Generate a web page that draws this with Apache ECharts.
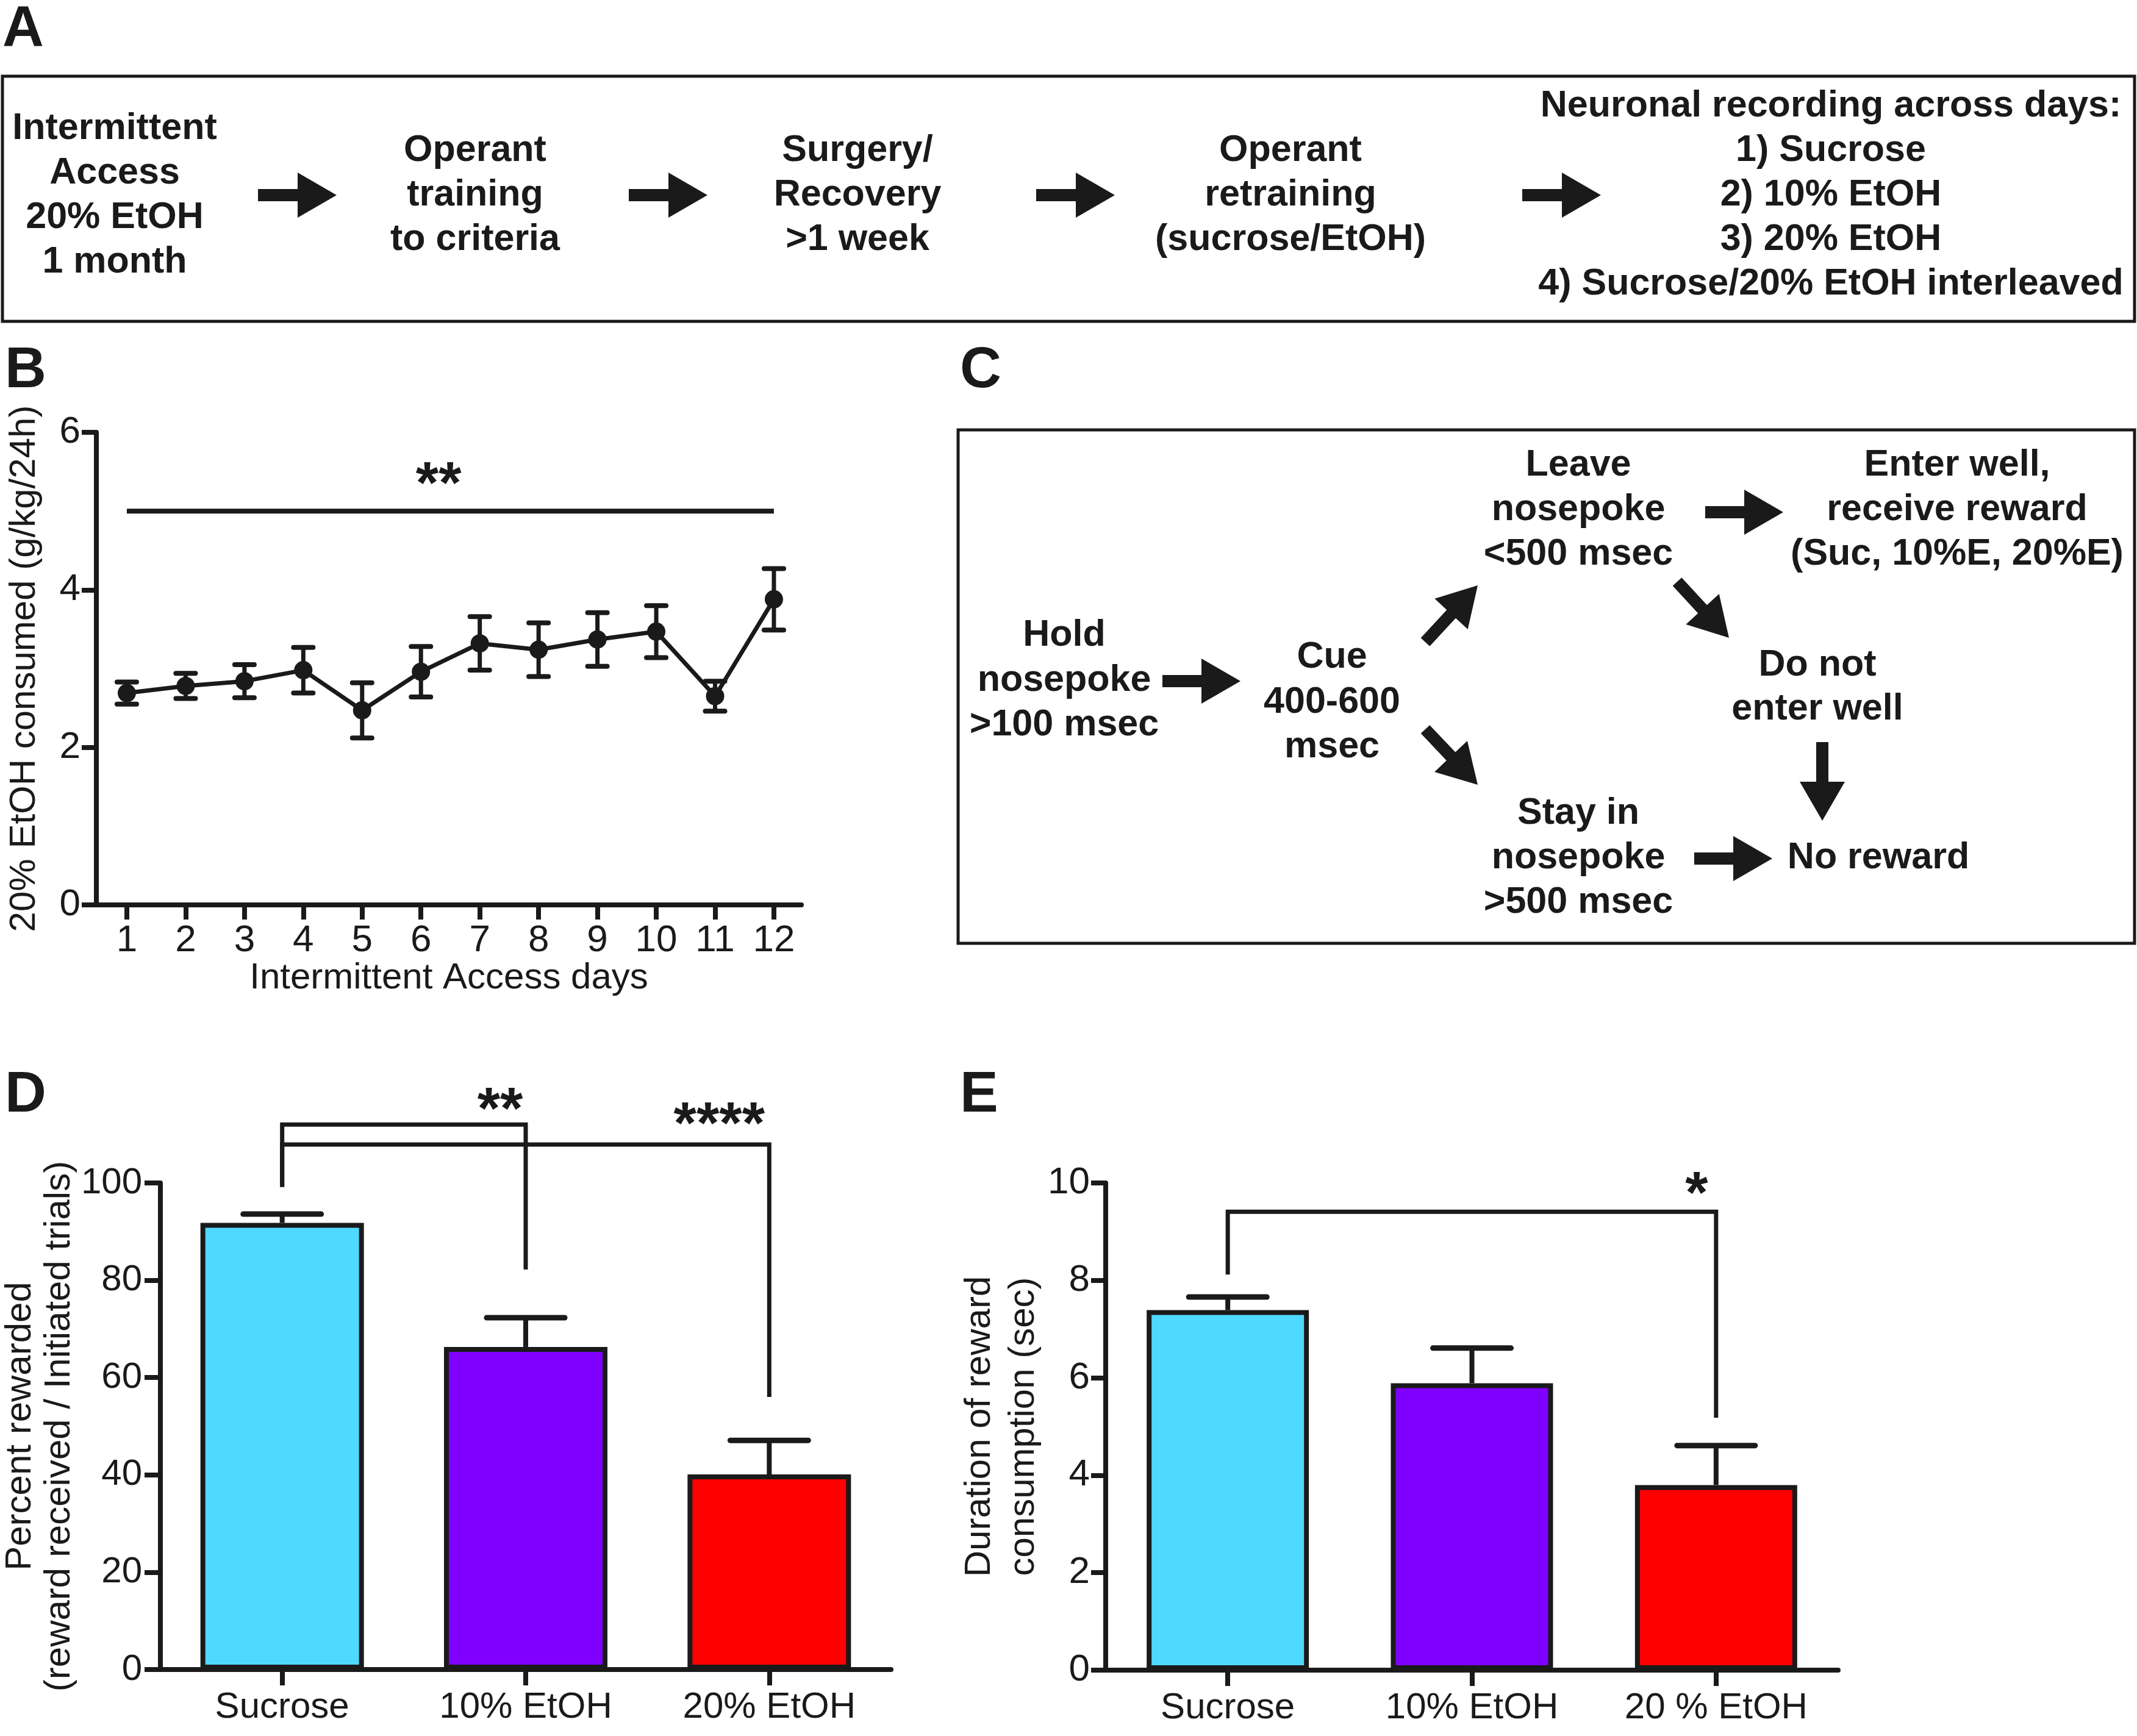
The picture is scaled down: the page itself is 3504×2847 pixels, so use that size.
<!DOCTYPE html>
<html><head><meta charset="utf-8">
<script src="https://cdn.jsdelivr.net/npm/echarts@6/dist/echarts.min.js"></script>
<style>html,body{margin:0;padding:0;background:#fff}#c{width:3504px;height:2847px}</style>
</head><body><div id="c"></div>
<script>
// ---------- DATA ----------
const dayValues = [1, 2, 3, 4, 5, 6, 7, 8, 9, 10, 11, 12];
const dayLabels = ['1', '2', '3', '4', '5', '6', '7', '8', '9', '10', '11', '12'];
const etohMean = [2.69, 2.78, 2.84, 2.98, 2.47, 2.96, 3.32, 3.24, 3.37, 3.47, 2.65, 3.88];
const etohSem  = [0.14, 0.16, 0.21, 0.29, 0.35, 0.32, 0.34, 0.34, 0.34, 0.33, 0.19, 0.39];
const etohSigLine = [1, 12, 5.0];          // from day, to day, level
const etohSigText = [[6.3, 5.45, '**']];   // day, level, text

const rewardCategories = ['Sucrose', '10% EtOH', '20% EtOH'];
const percentMean = [91.8, 66.3, 40.1];
const percentSem  = [1.8, 6.0, 7.0];
// bracket: [fromCat, fromStartY, topY, toCat, toEndY]
const percentBrackets = [[0, 99.2, 112, 1, 82.2], [0, 99.2, 107.9, 2, 56]];
// [category, level, text]; shifted a little left of the category centre
const percentSigText = [[1, 116.8, '**'], [2, 113.8, '****']];

const durationCategories = ['Sucrose', '10% EtOH', '20 % EtOH'];
const durationMean = [7.39, 5.89, 3.80];
const durationSem  = [0.27, 0.72, 0.81];
const durationBrackets = [[0, 8.12, 9.41, 2, 5.18]];
const durationSigText = [[2, 9.95, '*']];

const barColors = ['#50D9FF', '#8000FF', '#FF0000'];

// ---------- STYLE ----------
const INK = '#1a1a1a';
const FONT = '"Liberation Sans", Arial, Helvetica, sans-serif';

function errRender(both, capHalf, lw) {
  return function (params, api) {
    const x = api.value(0), m = api.value(1), s = api.value(2);
    const top = api.coord([x, m + s]);
    const mid = api.coord([x, m]);
    const bot = api.coord([x, m - s]);
    const st = { stroke: INK, lineWidth: lw, lineCap: 'butt' };
    const cst = { stroke: INK, lineWidth: lw + 1, lineCap: 'round' };
    const ch = [];
    if (both) {
      ch.push({ type: 'line', shape: { x1: top[0], y1: top[1], x2: bot[0], y2: bot[1] }, style: st });
      ch.push({ type: 'line', shape: { x1: bot[0] - capHalf, y1: bot[1], x2: bot[0] + capHalf, y2: bot[1] }, style: cst });
    } else {
      ch.push({ type: 'line', shape: { x1: mid[0], y1: mid[1], x2: top[0], y2: top[1] }, style: st });
    }
    ch.push({ type: 'line', shape: { x1: top[0] - capHalf, y1: top[1], x2: top[0] + capHalf, y2: top[1] }, style: cst });
    return { type: 'group', children: ch };
  };
}
function bracketRender(params, api) {
  const a = api.coord([api.value(0), api.value(1)]);
  const b = api.coord([api.value(0), api.value(2)]);
  const c = api.coord([api.value(3), api.value(2)]);
  const d = api.coord([api.value(3), api.value(4)]);
  return { type: 'polyline', shape: { points: [a, b, c, d] },
    style: { stroke: INK, lineWidth: 7, fill: null, lineJoin: 'miter' } };
}
function sigRender(list, size, dx) {
  return function (params, api) {
    const p = api.coord([api.value(0), api.value(1)]);
    return { type: 'text', x: p[0] + dx[params.dataIndex], y: p[1] + size * 0.18,
      style: { text: list[params.dataIndex][2], fill: INK, fontSize: size, fontWeight: 'bold',
        fontFamily: FONT, align: 'center', verticalAlign: 'middle' } };
  };
}

function axisCommon(extra) {
  return Object.assign({
    axisLine: { show: true, onZero: false, lineStyle: { color: INK, width: 8 } },
    axisTick: { show: true, length: 24, lineStyle: { color: INK, width: 8 } },
    axisLabel: { color: INK, fontSize: 62, fontFamily: FONT },
    splitLine: { show: false }
  }, extra);
}

// ---------- GRAPHIC (diagrams A and C) ----------
const graphics = [];
function txt(x, y, s, size, weight, align) {
  graphics.push({ type: 'text', x: x, y: y, style: { text: s, fill: INK, fontSize: size,
    fontWeight: weight || 'bold', fontFamily: FONT, align: align || 'center', verticalAlign: 'middle',
    textAlign: align || 'center', textVerticalAlign: 'middle' } });
}
function lines(cx, ys, arr) { arr.forEach((s, i) => txt(cx, ys[i], s, 61, 'bold')); }
function arrow(x0, y0, x1, y1) {
  const dx = x1 - x0, dy = y1 - y0, L = Math.hypot(dx, dy);
  const ux = dx / L, uy = dy / L, nx = -uy, ny = ux;
  const sh = 10, hl = 64, hh = 37;
  const bx = x1 - ux * hl, by = y1 - uy * hl;
  graphics.push({ type: 'polygon', shape: { points: [
    [x0 + nx * sh, y0 + ny * sh], [bx + nx * sh, by + ny * sh], [bx + nx * hh, by + ny * hh],
    [x1, y1], [bx - nx * hh, by - ny * hh], [bx - nx * sh, by - ny * sh], [x0 - nx * sh, y0 - ny * sh]
  ] }, style: { fill: INK } });
}
function box(x, y, w, h) {
  graphics.push({ type: 'rect', shape: { x: x, y: y, width: w, height: h },
    style: { fill: 'none', stroke: INK, lineWidth: 5 } });
}
// panel letters
txt(4, 50, 'A', 94, 'bold', 'left');
txt(8, 609, 'B', 94, 'bold', 'left');
txt(1574, 609, 'C', 94, 'bold', 'left');
txt(8, 1797, 'D', 94, 'bold', 'left');
txt(1574, 1797, 'E', 94, 'bold', 'left');
// Panel A
box(4, 125, 3496, 402);
lines(188, [211, 284, 357, 430], ['Intermittent', 'Access', '20% EtOH', '1 month']);
lines(779, [247, 320, 393], ['Operant', 'training', 'to criteria']);
lines(1406, [247, 320, 393], ['Surgery/', 'Recovery', '>1 week']);
lines(2116, [247, 320, 393], ['Operant', 'retraining', '(sucrose/EtOH)']);
lines(3002, [174, 247, 320, 393, 466], ['Neuronal recording across days:', '1) Sucrose', '2) 10% EtOH', '3) 20% EtOH', '4) Sucrose/20% EtOH interleaved']);
arrow(423, 320, 552, 320);
arrow(1031, 320, 1160, 320);
arrow(1699, 320, 1828, 320);
arrow(2496, 320, 2625, 320);
// Panel C
box(1571, 705, 1929, 842);
lines(1745, [1042, 1116, 1189], ['Hold', 'nosepoke', '>100 msec']);
lines(2184, [1078, 1152, 1225], ['Cue', '400-600', 'msec']);
lines(2588, [763, 836, 909], ['Leave', 'nosepoke', '<500 msec']);
lines(3209, [763, 836, 909], ['Enter well,', 'receive reward', '(Suc, 10%E, 20%E)']);
lines(2980, [1091, 1163], ['Do not', 'enter well']);
lines(2588, [1334, 1407, 1480], ['Stay in', 'nosepoke', '>500 msec']);
lines(3080, [1407], ['No reward']);
arrow(1906, 1117, 2034, 1117);
arrow(2337, 1053, 2423, 960);
arrow(2337, 1196, 2423, 1287);
arrow(2750, 954, 2835, 1046);
arrow(2796, 840, 2924, 840);
arrow(2988, 1217, 2988, 1346);
arrow(2778, 1408, 2906, 1408);

// ---------- CHART ----------
const chart = echarts.init(document.getElementById('c'), null, { renderer: 'canvas' });
const option = {
  backgroundColor: '#ffffff',
  animation: false,
  textStyle: { fontFamily: FONT },
  graphic: graphics,
  grid: [
    { left: 158, top: 709, width: 1156, height: 775 },
    { left: 258, top: 1940, width: 1203, height: 798 },
    { left: 1813, top: 1940, width: 1201, height: 799 }
  ],
  xAxis: [
    axisCommon({ gridIndex: 0, type: 'value', min: 0.482, max: 12.467,
      axisTick: { show: true, length: 24, customValues: dayValues, lineStyle: { color: INK, width: 8 } },
      axisLabel: { color: INK, fontSize: 62, fontFamily: FONT, margin: 28, customValues: dayValues,
        formatter: v => dayLabels[dayValues.indexOf(v)] },
      name: 'Intermittent Access days', nameLocation: 'middle', nameGap: 90,
      nameTextStyle: { color: INK, fontSize: 60, fontFamily: FONT } }),
    axisCommon({ gridIndex: 1, type: 'category', data: rewardCategories,
      axisTick: { show: true, length: 26, alignWithLabel: true, lineStyle: { color: INK, width: 8 } },
      axisLabel: { color: INK, fontSize: 60, fontFamily: FONT, margin: 32, interval: 0 } }),
    axisCommon({ gridIndex: 2, type: 'category', data: durationCategories,
      axisTick: { show: true, length: 26, alignWithLabel: true, lineStyle: { color: INK, width: 8 } },
      axisLabel: { color: INK, fontSize: 60, fontFamily: FONT, margin: 32, interval: 0 } })
  ],
  yAxis: [
    axisCommon({ gridIndex: 0, type: 'value', min: 0, max: 6, interval: 2,
      axisLabel: { color: INK, fontSize: 62, fontFamily: FONT, margin: 26 },
      name: '20% EtOH consumed (g/kg/24h)', nameLocation: 'middle', nameRotate: 90, nameGap: 88,
      nameTextStyle: { color: INK, fontSize: 60, fontFamily: FONT } }),
    axisCommon({ gridIndex: 1, type: 'value', min: 0, max: 100, interval: 20,
      axisTick: { show: true, length: 26, lineStyle: { color: INK, width: 8 } },
      axisLabel: { color: INK, fontSize: 60, fontFamily: FONT, margin: 30 },
      name: 'Percent rewarded\n(reward received / Initiated trials)', nameLocation: 'middle', nameRotate: 90, nameGap: 113,
      nameTextStyle: { color: INK, fontSize: 60, fontFamily: FONT, lineHeight: 64 } }),
    axisCommon({ gridIndex: 2, type: 'value', min: 0, max: 10, interval: 2,
      axisLabel: { color: INK, fontSize: 62, fontFamily: FONT, margin: 26 },
      name: 'Duration of reward\nconsumption (sec)', nameLocation: 'middle', nameRotate: 90, nameGap: 96,
      nameTextStyle: { color: INK, fontSize: 60, fontFamily: FONT, lineHeight: 72 } })
  ],
  series: [
    // Panel B
    { type: 'custom', xAxisIndex: 0, yAxisIndex: 0, z: 3,
      data: dayValues.map((d, i) => [d, etohMean[i], etohSem[i]]),
      renderItem: errRender(true, 16, 7) },
    { type: 'line', xAxisIndex: 0, yAxisIndex: 0, z: 4,
      data: dayValues.map((d, i) => [d, etohMean[i]]),
      symbol: 'circle', symbolSize: 30, itemStyle: { color: INK }, lineStyle: { color: INK, width: 7 } },
    { type: 'custom', xAxisIndex: 0, yAxisIndex: 0, z: 3,
      data: [[etohSigLine[0], etohSigLine[2], etohSigLine[2], etohSigLine[1], etohSigLine[2]]],
      renderItem: function (params, api) {
        const a = api.coord([api.value(0), api.value(1)]);
        const b = api.coord([api.value(3), api.value(4)]);
        return { type: 'line', shape: { x1: a[0], y1: a[1], x2: b[0], y2: b[1] },
          style: { stroke: INK, lineWidth: 8 } };
      } },
    { type: 'custom', xAxisIndex: 0, yAxisIndex: 0, z: 3,
      data: etohSigText.map(r => [r[0], r[1]]), renderItem: sigRender(etohSigText, 96, [0]) },
    // Panel D
    { type: 'bar', xAxisIndex: 1, yAxisIndex: 1, barWidth: 268, z: 2,
      data: percentMean.map((v, i) => ({ value: v, itemStyle: { color: barColors[i], borderColor: INK, borderWidth: 8 } })) },
    { type: 'custom', xAxisIndex: 1, yAxisIndex: 1, z: 3,
      data: percentMean.map((v, i) => [i, v, percentSem[i]]), renderItem: errRender(false, 64, 8) },
    { type: 'custom', xAxisIndex: 1, yAxisIndex: 1, z: 3,
      data: percentBrackets, renderItem: bracketRender },
    { type: 'custom', xAxisIndex: 1, yAxisIndex: 1, z: 3,
      data: percentSigText.map(r => [r[0], r[1]]), renderItem: sigRender(percentSigText, 96, [-42, -82]) },
    // Panel E
    { type: 'bar', xAxisIndex: 2, yAxisIndex: 2, barWidth: 266, z: 2,
      data: durationMean.map((v, i) => ({ value: v, itemStyle: { color: barColors[i], borderColor: INK, borderWidth: 8 } })) },
    { type: 'custom', xAxisIndex: 2, yAxisIndex: 2, z: 3,
      data: durationMean.map((v, i) => [i, v, durationSem[i]]), renderItem: errRender(false, 64, 8) },
    { type: 'custom', xAxisIndex: 2, yAxisIndex: 2, z: 3,
      data: durationBrackets, renderItem: bracketRender },
    { type: 'custom', xAxisIndex: 2, yAxisIndex: 2, z: 3,
      data: durationSigText.map(r => [r[0], r[1]]), renderItem: sigRender(durationSigText, 96, [-32]) }
  ]
};
chart.setOption(option);
</script>
</body></html>
